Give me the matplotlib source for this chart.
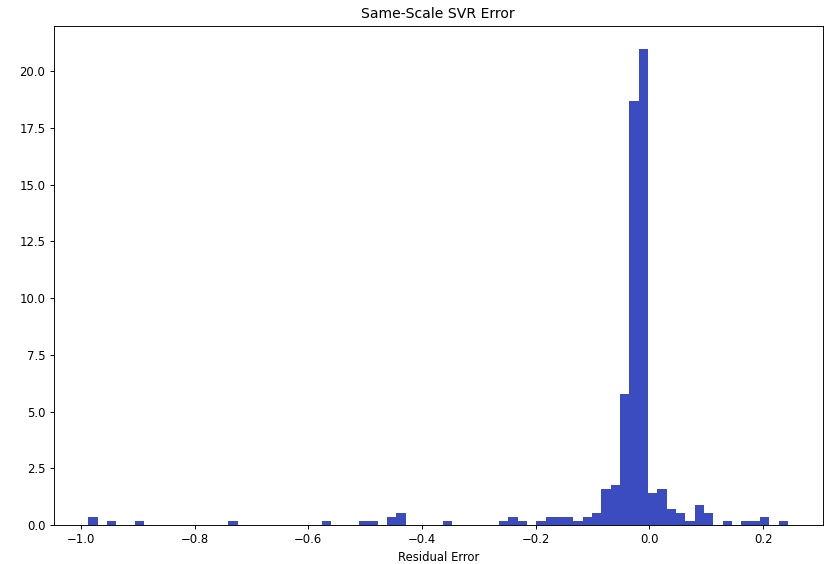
import numpy as np
import matplotlib
matplotlib.use("Agg")
import matplotlib.pyplot as plt

# Residual histogram: 75 equal-width bins over the residual range
bin_lo = -0.9865
bin_hi = 0.2437
n_bins = 75

# Number of residuals falling in each bin (349 samples total)
bin_counts = [
    2, 0, 1, 0, 0, 1, 0, 0, 0, 0,
    0, 0, 0, 0, 0, 1, 0, 0, 0, 0,
    0, 0, 0, 0, 0, 1, 0, 0, 0, 1,
    1, 0, 2, 3, 0, 0, 0, 0, 1, 0,
    0, 0, 0, 0, 1, 2, 1, 0, 1, 2,
    2, 2, 1, 2, 3, 9, 10, 33, 107, 120,
    8, 9, 4, 3, 1, 5, 3, 0, 1, 0,
    1, 1, 2, 0, 1,
]

title = "Same-Scale SVR Error"
x_label = "Residual Error"
bar_color = "#3b4cc0"

edges = np.linspace(bin_lo, bin_hi, n_bins + 1)
centers = 0.5 * (edges[:-1] + edges[1:])

DPI = 84
fig = plt.figure(figsize=(825 / DPI, 564 / DPI), dpi=DPI)
ax = fig.add_axes([53.5 / 825, 39 / 564, (823 - 53.5) / 825, (525 - 25.5) / 564])

ax.hist(centers, bins=edges, weights=bin_counts, density=True, color=bar_color)
ax.set_title(title)
ax.set_xlabel(x_label)

fig.savefig("out.png", dpi=DPI)
